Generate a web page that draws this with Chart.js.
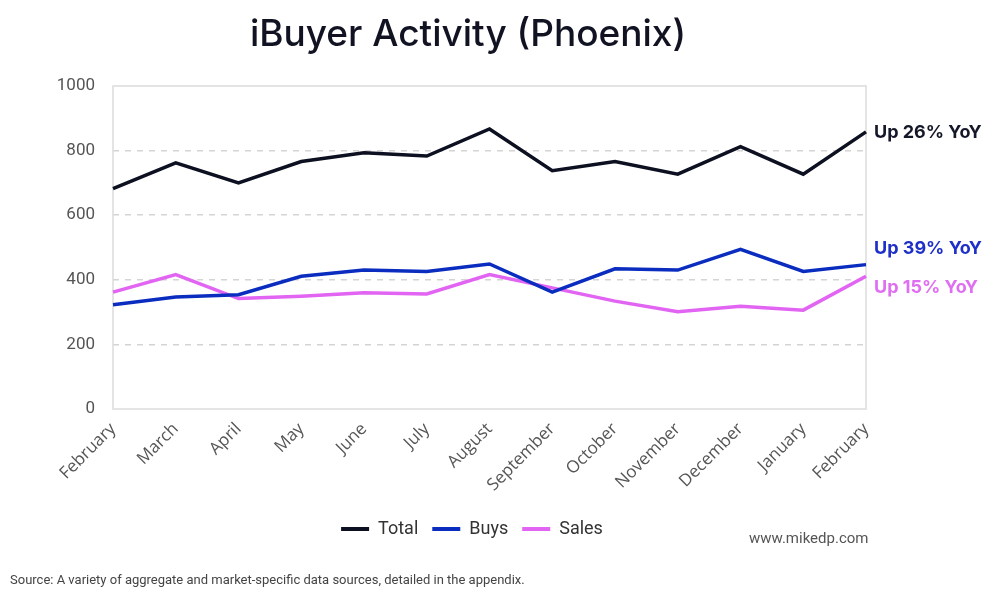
<!DOCTYPE html>
<html>
<head>
<meta charset="utf-8">
<script src="https://cdn.jsdelivr.net/npm/chart.js@4.4.1/dist/chart.umd.min.js"></script>
<style>
  html, body { margin: 0; padding: 0; background: #fff; }
  #wrap { position: relative; width: 1000px; height: 596px; }
</style>
</head>
<body>
<div id="wrap"><canvas id="chart" width="1000" height="596"></canvas></div>
<script>
// Chart data
const months = ['February', 'March', 'April', 'May', 'June', 'July', 'August',
    'September', 'October', 'November', 'December', 'January', 'February'];
const totalValues = [682, 762, 700, 766, 793, 783, 867, 738, 766, 727, 812, 727, 858];
const buysValues = [323, 347, 354, 411, 430, 426, 449, 362, 434, 430, 494, 426, 447];
const salesValues = [362, 416, 342, 349, 360, 356, 416, 375, 334, 301, 318, 306, 411];
const yoyLabels = ['Up 26% YoY', 'Up 39% YoY', 'Up 15% YoY'];
const yTicks = [0, 200, 400, 600, 800, 1000];

const colors = ['#0d1020', '#0a2dbf', '#e264f2'];
const labelColors = ['#141728', '#1f30c8', '#e06ef2'];

// Title, box, end labels and footer text
const extrasPlugin = {
    id: 'extras',
    afterLayout(chart) {
        // legend sits a bit right of the padded area in the original
        if (chart.legend) {
            chart.legend.left += 19;
            chart.legend.right += 19;
        }
    },
    beforeDatasetsDraw(chart) {
        const { ctx, chartArea: a } = chart;
        ctx.save();
        ctx.strokeStyle = '#dcdcdc';
        ctx.lineWidth = 1.5;
        ctx.strokeRect(a.left, a.top, a.right - a.left, a.bottom - a.top);
        ctx.restore();
    },
    afterDraw(chart) {
        const { ctx, chartArea: a } = chart;
        const y = chart.scales.y;
        ctx.save();
        ctx.fillStyle = '#111322';
        ctx.font = '500 37px Inter, "Open Sans", sans-serif';
        ctx.textAlign = 'center';
        ctx.textBaseline = 'middle';
        ctx.fillText('iBuyer Activity (Phoenix)', 468, 35);

        // end-of-line labels
        const last = months.length - 1;
        const series = [totalValues, buysValues, salesValues];
        const nudge = [1, -16, 11];
        ctx.font = 'bold 18px Inter, Roboto, sans-serif';
        ctx.textAlign = 'left';
        series.forEach((s, i) => {
            ctx.fillStyle = labelColors[i];
            ctx.fillText(yoyLabels[i], a.right + 8, y.getPixelForValue(s[last]) + nudge[i]);
        });

        ctx.fillStyle = '#555';
        ctx.font = '15px Roboto, sans-serif';
        ctx.fillText('www.mikedp.com', 749, 539);
        ctx.font = '13px Roboto, sans-serif';
        ctx.fillStyle = '#444';
        ctx.fillText('Source: A variety of aggregate and market-specific data sources, detailed in the appendix.', 10, 581);
        ctx.restore();
    }
};

const ctx = document.getElementById('chart');
new Chart(ctx.getContext('2d'), {
    type: 'line',
    data: {
        labels: months,
        datasets: [
            { label: 'Total', data: totalValues, borderColor: colors[0], backgroundColor: colors[0] },
            { label: 'Buys', data: buysValues, borderColor: colors[1], backgroundColor: colors[1] },
            { label: 'Sales', data: salesValues, borderColor: colors[2], backgroundColor: colors[2] }
        ]
    },
    options: {
        responsive: false,
        animation: false,
        layout: { padding: { left: 40, right: 134, top: 86, bottom: 48 } },
        elements: {
            line: { borderWidth: 3.5, tension: 0, borderJoinStyle: 'miter' },
            point: { radius: 0 }
        },
        plugins: {
            legend: {
                position: 'bottom',
                align: 'center',
                labels: {
                    color: '#333',
                    font: { family: 'Roboto, sans-serif', size: 18 },
                    boxWidth: 28,
                    boxHeight: 4,
                    padding: 14,
                    generateLabels(chart) {
                        return Chart.defaults.plugins.legend.labels.generateLabels(chart)
                            .map(item => ({ ...item, lineWidth: 0 }));
                    }
                }
            },
            tooltip: { enabled: false }
        },
        scales: {
            x: {
                offset: false,
                grid: { display: false },
                border: { display: false },
                ticks: {
                    color: '#555',
                    font: { family: '"Open Sans", sans-serif', size: 17 },
                    minRotation: 45,
                    maxRotation: 45,
                    padding: 2
                },
                afterFit(scale) { scale.height = 97; }
            },
            y: {
                min: 0,
                max: 1000,
                afterBuildTicks(scale) { scale.ticks = yTicks.map(v => ({ value: v })); },
                grid: {
                    color: (c) => (c.tick.value === 0 || c.tick.value === 1000) ? 'rgba(0,0,0,0)' : '#d4d4d4',
                    lineWidth: 1.5,
                    drawTicks: false
                },
                border: { display: false, dash: [6, 6] },
                ticks: {
                    color: '#555',
                    font: { family: 'Roboto, sans-serif', size: 17 },
                    padding: 18,
                    callback: (v) => String(v)
                },
                afterFit(scale) { scale.width = 73; }
            }
        }
    },
    plugins: [extrasPlugin]
});
</script>
</body>
</html>
